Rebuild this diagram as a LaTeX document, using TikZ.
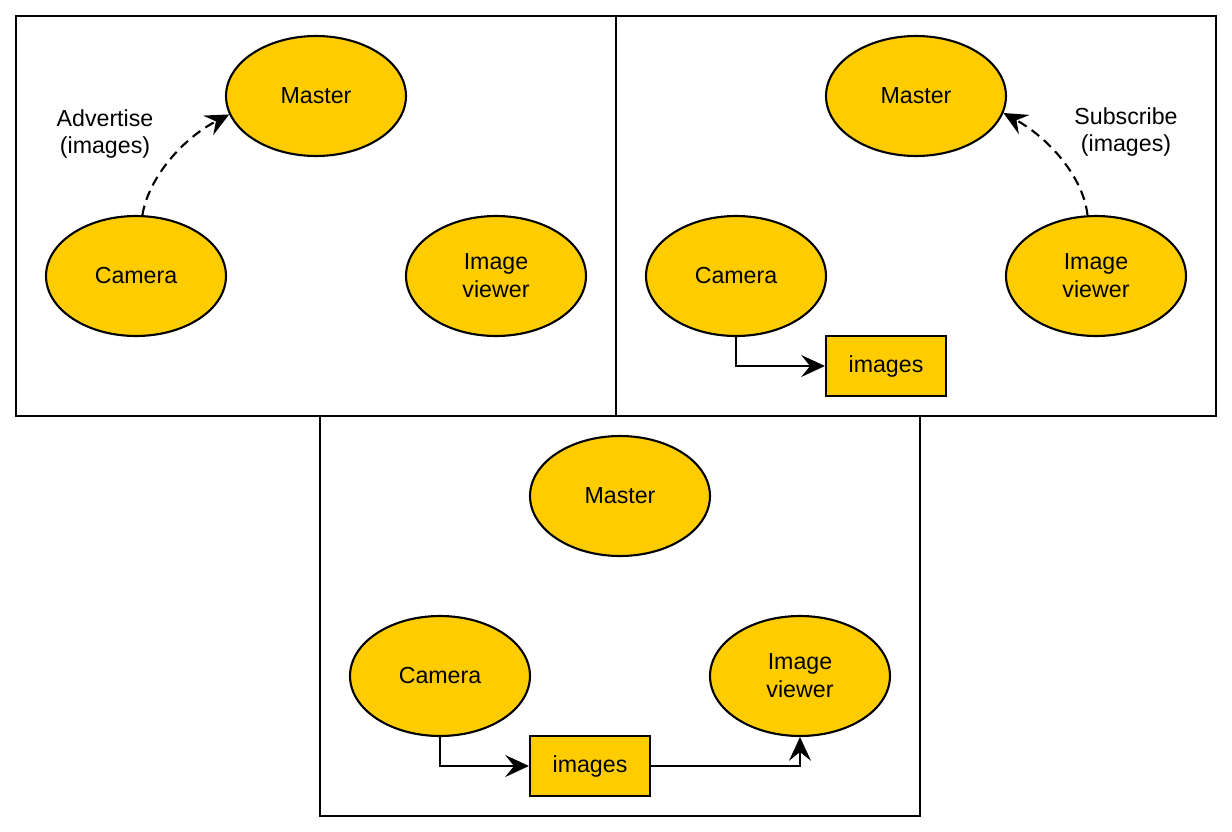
\documentclass[tikz,border=0pt]{standalone}
\usepackage{fontspec}
\setmainfont{Liberation Sans}
\usetikzlibrary{arrows.meta, shapes.geometric}

\definecolor{nodefill}{HTML}{FFCC00}

\tikzset{
    proc/.style={ellipse, draw, fill=nodefill, minimum width=3.6cm, minimum height=2.4cm, inner sep=0pt, align=center},
    topic/.style={rectangle, draw, fill=nodefill, minimum width=2.4cm, minimum height=1.2cm, inner sep=0pt},
    panel/.style={draw},
    flow/.style={-{Stealth[length=13.5pt, width=12.5pt, inset=5pt]}},
    call/.style={flow, dash pattern=on 5.5pt off 3.5pt},
}

\begin{document}
\begin{tikzpicture}[x=0.02cm, y=-0.02cm, line width=1.2pt, font=\fontsize{13.2}{15.8}\selectfont]
    \useasboundingbox (0,0) rectangle (1232,832);

    % Panel 1: the camera advertises its topic to the master
    \begin{scope}[shift={(16,16)}]
        \draw[panel] (0,0) rectangle (600,400);
        \node[proc] (m1) at (300,80) {Master};
        \node[proc] (c1) at (120,260) {Camera};
        \node[proc] (v1) at (480,260) {Image\\viewer};
        \node[align=center] (adv) at (89,118) {Advertise\\(images)};
        \draw[call] (c1.84) .. controls (132,164) and (164,124) .. (m1.192);
    \end{scope}

    % Panel 2: the viewer subscribes, the camera publishes
    \begin{scope}[shift={(616,16)}]
        \draw[panel] (0,0) rectangle (600,400);
        \node[proc] (m2) at (300,80) {Master};
        \node[proc] (c2) at (120,260) {Camera};
        \node[proc] (v2) at (480,260) {Image\\viewer};
        \node[topic] (i2) at (270,350) {images};
        \node[align=center] (sub) at (510,116) {Subscribe\\(images)};
        \draw[call] (v2.98) .. controls (468,164) and (436,124) .. (m2.349);
        \draw[flow] (c2.south) |- (i2.west);
    \end{scope}

    % Panel 3: images flow from camera to viewer
    \begin{scope}[shift={(320,416)}]
        \draw[panel] (0,0) rectangle (600,400);
        \node[proc] (m3) at (300,80) {Master};
        \node[proc] (c3) at (120,260) {Camera};
        \node[proc] (v3) at (480,260) {Image\\viewer};
        \node[topic] (i3) at (270,350) {images};
        \draw[flow] (c3.south) |- (i3.west);
        \draw[flow] (i3.east) -| (v3.south);
    \end{scope}

\end{tikzpicture}
\end{document}
